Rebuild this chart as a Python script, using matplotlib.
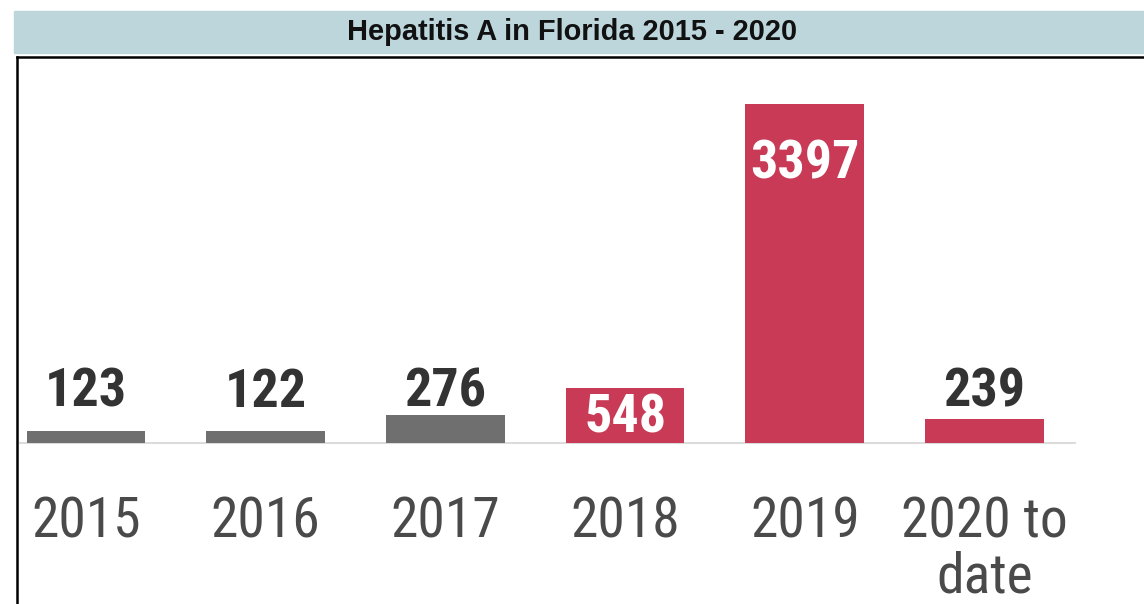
import matplotlib
matplotlib.use("Agg")
import matplotlib.pyplot as plt
from matplotlib import font_manager
from matplotlib.patches import Rectangle
from matplotlib.lines import Line2D

# data
years = ['2015', '2016', '2017', '2018', '2019', '2020 to\ndate']
cases = [123, 122, 276, 548, 3397, 239]
outbreak = [False, False, False, True, True, True]
title = 'Hepatitis A in Florida 2015 - 2020'

GRAY = '#6f6f6f'
RED = '#c83a56'


def pick_narrow():
    # look for a condensed face; the original uses a condensed sans
    for fam in ['Roboto Condensed', 'Liberation Sans Narrow', 'DejaVu Sans Condensed']:
        try:
            font_manager.findfont(fam, fallback_to_default=False)
            return dict(family=fam), 1.0
        except Exception:
            pass
    for fam in ['Roboto', 'DejaVu Sans', 'Noto Sans', 'Open Sans']:
        fp = font_manager.FontProperties(family=fam, stretch='condensed')
        path = font_manager.findfont(fp, fallback_to_default=False)
        if 'ondensed' in path or 'arrow' in path:
            return dict(family=fam, stretch='condensed'), 1.0
    return dict(family='Roboto'), 0.86


narrow, k = pick_narrow()

W, H = 1144, 604
fig = plt.figure(figsize=(W / 100, H / 100), dpi=100)

# title band
fig.patches.append(Rectangle((14 / W, 1 - 53 / H), 1 - 14 / W, 42 / H,
                             transform=fig.transFigure, color='#bdd6dc', zorder=0))
fig.text(0.5, 1 - 32 / H, title, ha='center', va='center', fontsize=20.9,
         fontweight='bold', family='Liberation Sans', color='#111111')

# box border (top and left)
fig.lines.append(Line2D([16.5 / W, 1], [1 - 56.5 / H, 1 - 56.5 / H],
                        transform=fig.transFigure, color='black', lw=1.8))
fig.lines.append(Line2D([16.5 / W, 16.5 / W], [0, 1 - 56.5 / H],
                        transform=fig.transFigure, color='black', lw=1.8))

# axes: bar 0 centred at x=86px, 179.7px per bar; baseline at 443px
step = 179.7
x0 = -0.45
x1 = 5.55
left_px = 86 + x0 * step
right_px = 86 + x1 * step
ax = fig.add_axes([left_px / W, 1 - 443 / H, (right_px - left_px) / W, (443 - 60) / H])
ymax = max(cases) * (443 - 60) / (443 - 104)
ax.set_xlim(x0, x1)
ax.set_ylim(0, ymax)

x = list(range(len(cases)))
colors = [RED if o else GRAY for o in outbreak]
ax.bar(x, cases, width=0.66, color=colors, zorder=2)

# baseline
ax.plot([-0.367, 5.503], [0, 0], color='#dcdcdc', lw=1.5, zorder=1, clip_on=False)

vsize = 39 * k
for xi, v in zip(x, cases):
    if v < 300:
        ax.annotate(str(v), (xi, 0), xytext=(0, 36.5), textcoords='offset points',
                    ha='center', va='center', fontsize=vsize, fontweight='bold',
                    color='#333333', **narrow)
    elif v < 1000:
        ax.annotate(str(v), (xi, v / 2), xytext=(0, -2), textcoords='offset points',
                    ha='center', va='center', fontsize=vsize, fontweight='bold',
                    color='white', **narrow)
    else:
        ax.annotate(str(v), (xi, v), xytext=(0, -43), textcoords='offset points',
                    ha='center', va='center', fontsize=vsize, fontweight='bold',
                    color='white', **narrow)

ax.set_xticks(x)
ax.set_xticklabels(years, fontsize=40 * k, color='#4a4a4a',
                   linespacing=1.03, va='top', **narrow)
ax.tick_params(axis='x', length=0, pad=38 + (1 - k) * 20)
ax.set_yticks([])
for s in ax.spines.values():
    s.set_visible(False)
ax.patch.set_alpha(0)

fig.savefig('out.png', dpi=100)
